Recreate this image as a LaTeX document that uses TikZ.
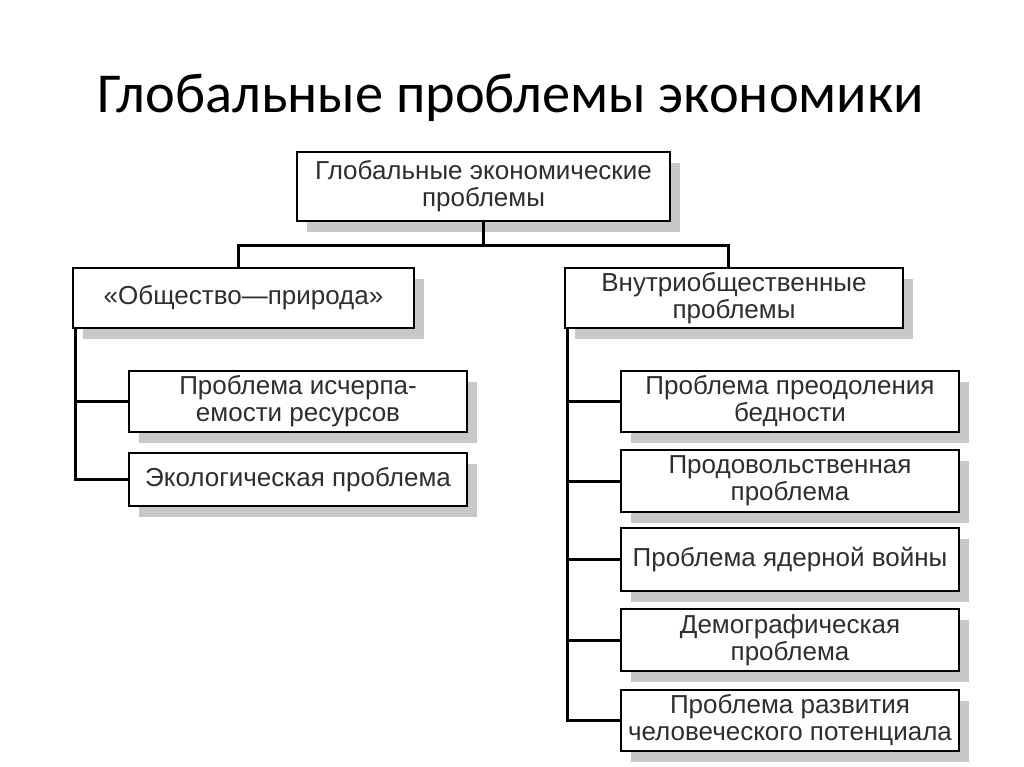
\documentclass[tikz,border=0pt]{standalone}
\usepackage{fontspec}
\setmainfont{Liberation Sans}
\newfontfamily\titlefont{Carlito}
\usetikzlibrary{shadows}
\definecolor{txt}{HTML}{2E2E2E}
\definecolor{shade}{HTML}{C8C8C8}
\tikzset{
  box/.style={draw=black, line width=2pt, fill=white, rectangle, inner sep=0pt,
    align=center, text=txt, font=\fontsize{26}{27}\selectfont,
    drop shadow={shadow xshift=10pt, shadow yshift=-11pt, fill=shade, opacity=1}},
  conn/.style={draw=black, line width=3pt}
}
\begin{document}
\begin{tikzpicture}[x=1pt,y=-1pt]
\useasboundingbox[fill=white] (0,0) rectangle (1024,767);
\node[anchor=base, font=\titlefont\fontsize{56.4}{60}\selectfont] (title) at (511,113) {Глобальные проблемы экономики};

\node[box, minimum width=373pt, minimum height=69pt] (top) at (483.5,186.5) {Глобальные экономические\\проблемы};
\node[box, minimum width=341pt, minimum height=60pt] (L) at (243.5,298) {«Общество—природа»};
\node[box, minimum width=338pt, minimum height=60pt] (R) at (734,298) {Внутриобщественные\\проблемы};

\node[box, minimum width=338pt, minimum height=61pt] (L1) at (298,401.5) {Проблема исчерпа-\\емости ресурсов};
\node[box, minimum width=338pt, minimum height=53pt] (L2) at (298,479.5) {Экологическая проблема};

\node[box, minimum width=338pt, minimum height=61pt] (R1) at (790,401.5) {Проблема преодоления\\бедности};
\node[box, minimum width=338pt, minimum height=62pt] (R2) at (790,481) {Продовольственная\\проблема};
\node[box, minimum width=338pt, minimum height=63pt] (R3) at (790,559.5) {Проблема ядерной войны};
\node[box, minimum width=338pt, minimum height=62pt] (R4) at (790,640) {Демографическая\\проблема};
\node[box, minimum width=338pt, minimum height=61pt] (R5) at (790,720.5) {Проблема развития\\человеческого потенциала};

\coordinate (j) at (483.5,245);
\draw[conn] (top.south) -- (j);
\draw[conn] ([xshift=-5.5pt]L.north) |- (j) -| ([xshift=-6pt]R.north);

\draw[conn] ([xshift=3pt]L.south west) |- (L2.west);
\draw[conn] (L1.west) -- ([xshift=3pt]L.south west |- L1.west);

\draw[conn] ([xshift=3pt]R.south west) |- (R5.west);
\foreach \n in {R1,R2,R3,R4}
  \draw[conn] (\n.west) -- ([xshift=3pt]R.south west |- \n.west);
\end{tikzpicture}
\end{document}
